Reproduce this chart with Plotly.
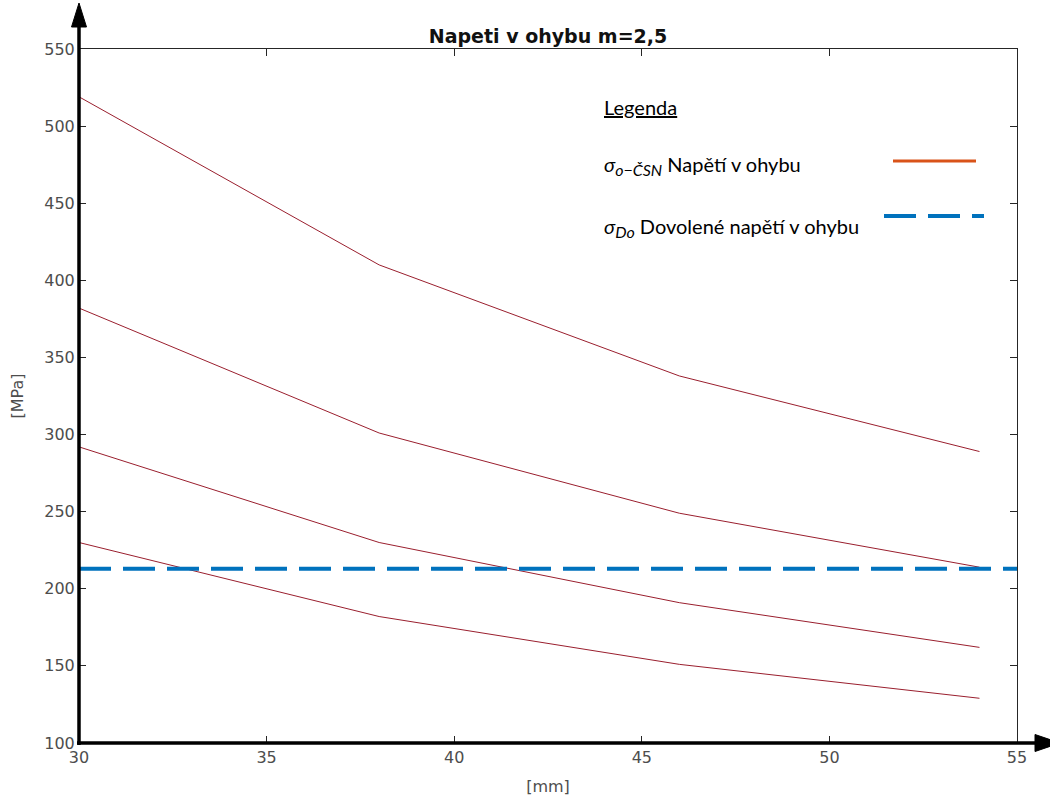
import plotly.graph_objects as go

# Bending stress along the shaft length for four load cases
x_mm = [30, 38, 46, 54]
stress_case_1 = [519, 410, 338, 289]
stress_case_2 = [382, 301, 249, 214]
stress_case_3 = [292, 230, 191, 162]
stress_case_4 = [230, 182, 151, 129]
stress_series = [stress_case_1, stress_case_2, stress_case_3, stress_case_4]

# Allowable bending stress
allowed_x = [30, 55]
allowed_stress = 213

x_ticks = [30, 35, 40, 45, 50, 55]
y_ticks = [100, 150, 200, 250, 300, 350, 400, 450, 500, 550]

W, H = 1050, 796
ML, MR, MT, MB = 79, 33, 49, 53
PW, PH = W - ML - MR, H - MT - MB


def px(p):
    return (p - ML) / PW


def py(p):
    return (H - MB - p) / PH


fig = go.Figure()

for ys in stress_series:
    fig.add_trace(go.Scatter(
        x=x_mm, y=ys, mode="lines",
        line=dict(color="#9a1f2e", width=1),
        showlegend=False, hoverinfo="skip",
    ))

fig.add_trace(go.Scatter(
    x=allowed_x, y=[allowed_stress] * len(allowed_x), mode="lines",
    line=dict(color="#0072BD", width=4, dash="32px,12px"),
    showlegend=False, hoverinfo="skip",
))

axis_common = dict(
    showline=True, linecolor="#262626", linewidth=1, mirror="allticks",
    ticks="inside", ticklen=7, tickcolor="#262626", tickwidth=1,
    showgrid=False, zeroline=False, automargin=False,
    tickfont=dict(family="DejaVu Sans", size=16, color="#4d4d4d"),
)

fig.update_layout(
    width=W, height=H,
    margin=dict(l=ML, r=MR, t=MT, b=MB, pad=0),
    paper_bgcolor="white", plot_bgcolor="white",
    title=dict(
        text="<b>Napeti v ohybu m=2,5</b>",
        font=dict(family="DejaVu Sans", size=19, color="#111111"),
        x=0.5, xref="paper", xanchor="center",
        y=1 - 36 / H, yref="container", yanchor="middle",
    ),
    xaxis=dict(
        range=[30, 55], tickvals=x_ticks,
        ticktext=[str(v) for v in x_ticks],
        title=dict(text="[mm]", standoff=17,
                   font=dict(family="DejaVu Sans", size=16, color="#4d4d4d")),
        **axis_common,
    ),
    yaxis=dict(
        range=[100, 550], tickvals=y_ticks,
        ticktext=[str(v) for v in y_ticks],
        title=dict(text="[MPa]", standoff=16,
                   font=dict(family="DejaVu Sans", size=16, color="#4d4d4d")),
        **axis_common,
    ),
    showlegend=False,
)

shapes = []
# Thick arrowed axes
shapes.append(dict(type="line", xref="paper", yref="paper",
                   x0=px(79), y0=py(745), x1=px(79), y1=py(24),
                   line=dict(color="black", width=3.5)))
shapes.append(dict(type="path", xref="paper", yref="paper",
                   path=f"M {px(79)},{py(3)} L {px(71.5)},{py(27)} L {px(86.5)},{py(27)} Z",
                   fillcolor="black", line=dict(color="black", width=1)))
shapes.append(dict(type="line", xref="paper", yref="paper",
                   x0=px(77), y0=py(743), x1=px(1038), y1=py(743),
                   line=dict(color="black", width=3.5)))
shapes.append(dict(type="path", xref="paper", yref="paper",
                   path=f"M {px(1060)},{py(743)} L {px(1035)},{py(734.5)} L {px(1035)},{py(751.5)} Z",
                   fillcolor="black", line=dict(color="black", width=1)))

# Legend samples
shapes.append(dict(type="line", xref="paper", yref="paper",
                   x0=px(893), y0=py(161), x1=px(976), y1=py(161),
                   line=dict(color="#D95319", width=3)))
shapes.append(dict(type="line", xref="paper", yref="paper",
                   x0=px(884), y0=py(216), x1=px(984), y1=py(216),
                   line=dict(color="#0072BD", width=4, dash="32px,12px")))

fig.update_layout(shapes=shapes)

legend_font = dict(family="Lato", size=20, color="black")
sub_style = '<span style="font-size:16px">'
annotations = [
    dict(text="<u>Legenda</u>", x=px(602), y=py(107)),
    dict(text=f"<i>σ</i><sub>{sub_style}<i>o−ČSN</i></span></sub> Napětí v ohybu",
         x=px(602), y=py(166)),
    dict(text=f"<i>σ</i><sub>{sub_style}<i>Do</i></span></sub> Dovolené napětí v ohybu",
         x=px(602), y=py(228)),
]
for a in annotations:
    a.update(xref="paper", yref="paper", xanchor="left", yanchor="middle",
             showarrow=False, font=legend_font)
fig.update_layout(annotations=annotations)

fig.write_html("out.html")
